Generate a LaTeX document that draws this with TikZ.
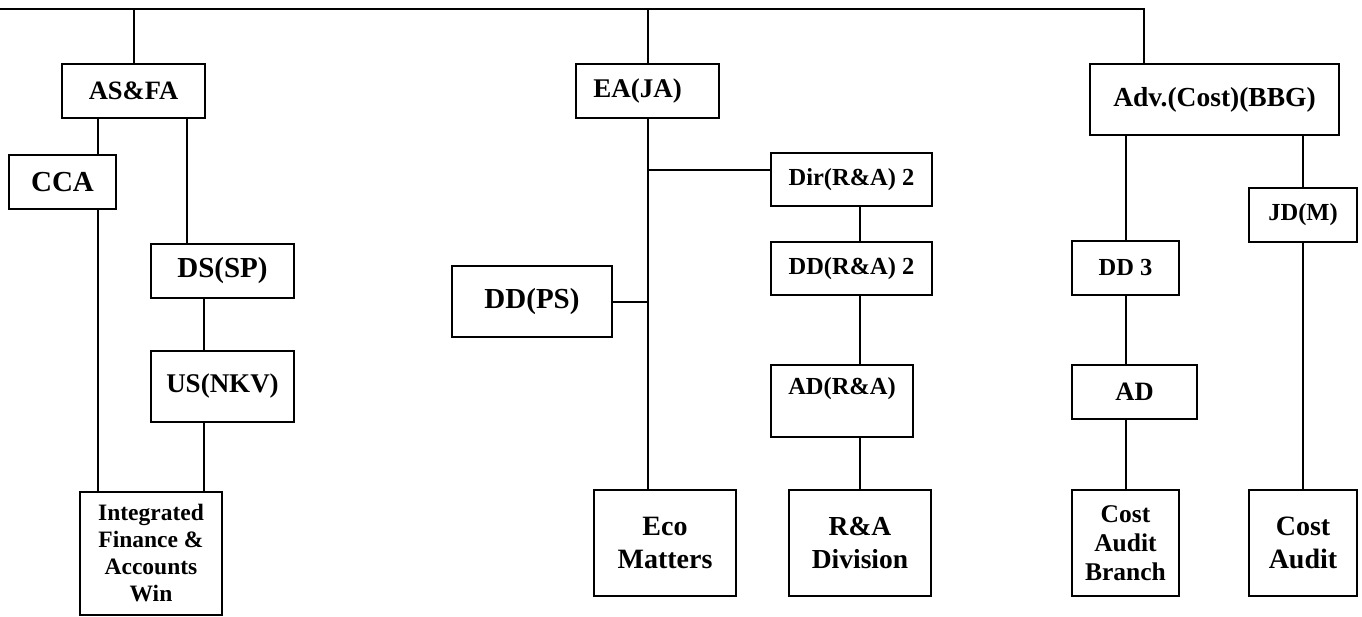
\documentclass[tikz,border=0pt]{standalone}
\usepackage{fontspec}
\setmainfont{Liberation Serif}
\begin{document}
\begin{tikzpicture}[x=1pt,y=-1pt,
  box/.style={draw, line width=2pt, inner sep=0pt, align=center, font=\bfseries},
  conn/.style={line width=2pt}]
\useasboundingbox (0,0) rectangle (1362,616);
% column coordinates
\coordinate (tl) at (0,9);
\coordinate (tr) at (1144,9);
\coordinate (c98) at (98,0);
\coordinate (c187) at (187,0);
\coordinate (c204) at (204,0);
\coordinate (c860) at (860,0);
\coordinate (j1) at (648,170);
% left branch
\node[box, minimum width=143pt, minimum height=54pt, font=\bfseries\fontsize{26.5}{30}\selectfont] (asfa) at (133.5,91) {AS\&FA};
\node[box, minimum width=107pt, minimum height=54pt, font=\bfseries\fontsize{29}{33}\selectfont] (cca) at (62.5,182) {CCA};
\node[box, minimum width=143pt, minimum height=54pt, font=\bfseries\fontsize{29}{33}\selectfont] (dssp) at (222.5,271) {DS(SP)};
\node[box, minimum width=143pt, minimum height=71pt, font=\bfseries\fontsize{27}{31}\selectfont] (usnkv) at (222.5,386.5) {US(NKV)};
\node[box, minimum width=142pt, minimum height=123pt, font=\bfseries\fontsize{23.5}{27}\selectfont] (ifaw) at (151,553) {Integrated\\Finance \&\\Accounts\\Win};
% middle branch
\node[box, minimum width=143pt, minimum height=54pt, font=\bfseries\fontsize{27}{31}\selectfont] (eaja) at (647.5,91) {EA(JA)\hspace{20pt}};
\node[box, minimum width=161pt, minimum height=53pt, font=\bfseries\fontsize{24.5}{28}\selectfont] (dir) at (851.5,179.5) {Dir(R\&A) 2};
\node[box, minimum width=161pt, minimum height=53pt, font=\bfseries\fontsize{24.5}{28}\selectfont] (ddra) at (851.5,268.5) {DD(R\&A) 2};
\node[box, minimum width=160pt, minimum height=71pt, font=\bfseries\fontsize{29}{33}\selectfont] (ddps) at (532,301.5) {DD(PS)};
\node[box, minimum width=142pt, minimum height=72pt] (adra) at (842,401) {};
\node[font=\bfseries\fontsize{24.5}{28}\selectfont, inner sep=0pt] (adratxt) at (842,389) {AD(R\&A)};
\node[box, minimum width=142pt, minimum height=106pt, font=\bfseries\fontsize{28}{33}\selectfont] (eco) at (665,543) {Eco\\Matters};
\node[box, minimum width=142pt, minimum height=106pt, font=\bfseries\fontsize{27.5}{33}\selectfont] (radiv) at (860,543) {R\&A\\Division};
% right branch
\node[box, minimum width=249pt, minimum height=71pt, font=\bfseries\fontsize{27.5}{31}\selectfont] (adv) at (1214.5,99.5) {Adv.(Cost)(BBG)};
\node[box, minimum width=108pt, minimum height=54pt, font=\bfseries\fontsize{24.5}{28}\selectfont] (jdm) at (1303,215) {JD(M)};
\node[box, minimum width=107pt, minimum height=54pt, font=\bfseries\fontsize{24.5}{28}\selectfont] (dd3) at (1125.5,268) {DD 3};
\node[box, minimum width=125pt, minimum height=54pt, font=\bfseries\fontsize{26.5}{30}\selectfont] (ad) at (1134.5,392) {AD};
\node[box, minimum width=107pt, minimum height=106pt, font=\bfseries\fontsize{25.5}{29}\selectfont] (cab) at (1125.5,543) {Cost\\Audit\\Branch};
\node[box, minimum width=108pt, minimum height=106pt, font=\bfseries\fontsize{28}{33}\selectfont] (ca) at (1303,543) {Cost\\Audit};
% connectors
\draw[conn] (tl) -- (tr) -- (tr |- adv.north);
\draw[conn] (asfa.north) -- (asfa.north |- tl);
\draw[conn] (eaja.north) -- (eaja.north |- tl);
\draw[conn] (asfa.south -| c98) -- (cca.north -| c98);
\draw[conn] (asfa.south -| c187) -- (dssp.north -| c187);
\draw[conn] (cca.south -| c98) -- (ifaw.north -| c98);
\draw[conn] (dssp.south -| c204) -- (usnkv.north -| c204);
\draw[conn] (usnkv.south -| c204) -- (ifaw.north -| c204);
\draw[conn] (eaja.south) -- (eco.north -| eaja.south);
\draw[conn] (j1) -- (j1 -| dir.west);
\draw[conn] (ddps.east) -- (ddps.east -| eaja.south);
\draw[conn] (dir.south -| c860) -- (ddra.north -| c860);
\draw[conn] (ddra.south -| c860) -- (adra.north -| c860);
\draw[conn] (adra.south -| c860) -- (radiv.north -| c860);
\draw[conn] (adv.south -| dd3.north) -- (dd3.north);
\draw[conn] (dd3.south) -- (dd3.south |- ad.north);
\draw[conn] (ad.south -| cab.north) -- (cab.north);
\draw[conn] (adv.south -| jdm.north) -- (jdm.north);
\draw[conn] (jdm.south) -- (ca.north);
\end{tikzpicture}
\end{document}
